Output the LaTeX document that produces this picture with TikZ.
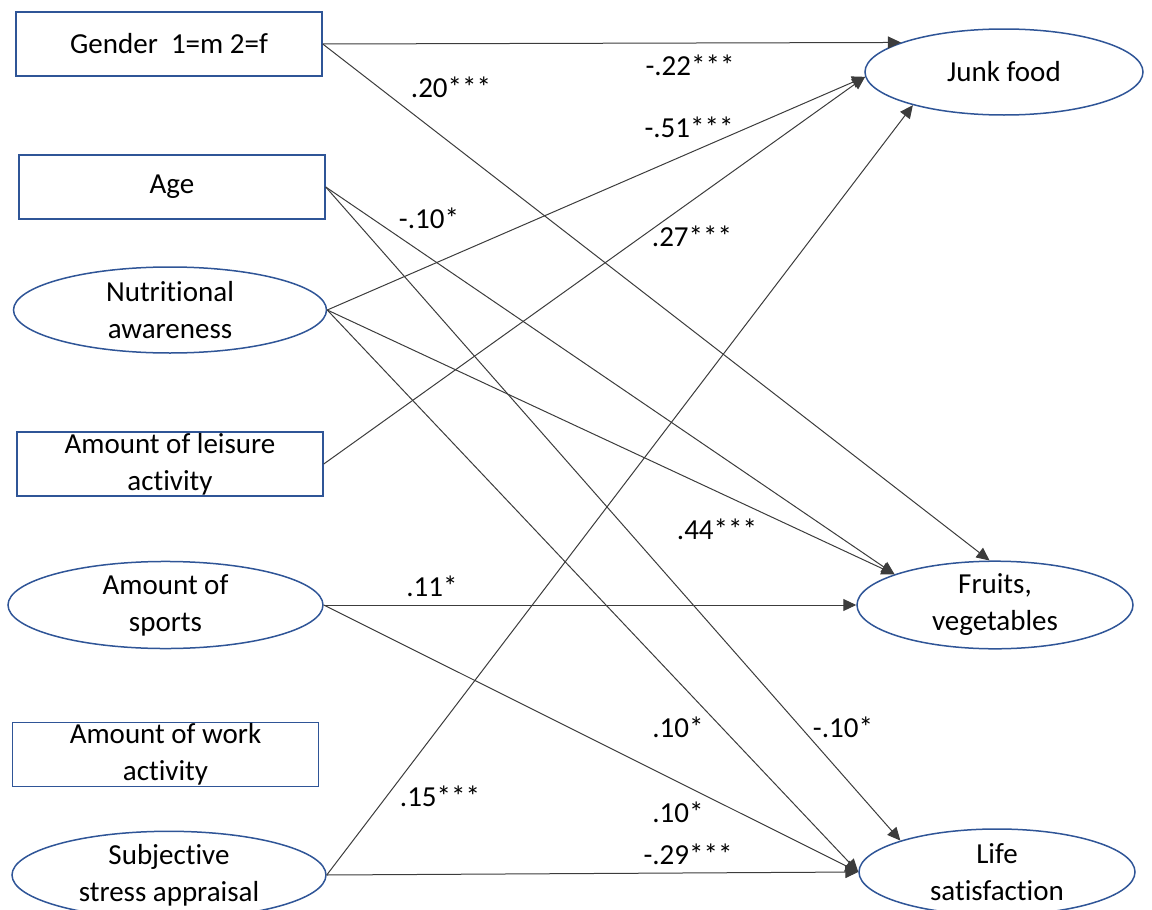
\documentclass[tikz,border=0pt]{standalone}
\usepackage{fontspec}
\setmainfont{Carlito}[Ligatures=NoCommon]
\usetikzlibrary{arrows.meta}
\usetikzlibrary{shapes.geometric}
\definecolor{boxblue}{RGB}{47,85,151}
\definecolor{pathgray}{RGB}{60,60,60}
\tikzset{
	varbox/.style={draw=boxblue,line width=0.75pt,rectangle,inner sep=0pt,minimum width=153pt,minimum height=32pt,align=center,font=\fontsize{14.5}{18.5}\selectfont},
	latent/.style={draw=boxblue,line width=0.75pt,ellipse,inner sep=0pt,minimum height=43pt,align=center,font=\fontsize{14.5}{18.5}\selectfont},
	effect/.style={draw=pathgray,line width=0.5pt,-{Triangle[length=6.5pt,width=6pt]}},
	coef/.style={font=\fontsize{14.5}{17}\selectfont,inner sep=0pt}
}
\begin{document}
\begin{tikzpicture}[x=0.5pt,y=-0.5pt]
	\useasboundingbox (0,0) rectangle (1152,910);

	\node[varbox] (gender) at (169,44) {Gender\ \ 1=m 2=f};
	\node[varbox] (age) at (172,187) {Age};
	\node[latent,minimum width=156.5pt] (nutri) at (170,310) {Nutritional\\awareness};
	\node[varbox] (leisure) at (170,464) {Amount of leisure\\activity};
	\node[latent,minimum width=157.5pt] (sports) at (165.5,605) {Amount of\\sports};
	\node[varbox] (work) at (165.5,754.5) {Amount of work\\activity};
	\node[latent,minimum width=157pt] (stress) at (169,875) {Subjective\\stress appraisal};

	\node[latent,minimum width=139pt] (junk) at (1004,72) {Junk food};
	\node[latent,minimum width=138pt] (fruits) at (995,605) {Fruits,\\vegetables};
	\node[latent,minimum width=138pt] (life) at (997,872) {Life\\satisfaction};

	\draw[effect] (gender.east) -- (junk.164);
	\draw[effect] (gender.east) -- (fruits.97);
	\draw[effect] (age.east) -- (fruits.163);
	\draw[effect] (age.east) -- (life.162);
	\draw[effect] (nutri.east) -- (junk.182);
	\draw[effect] (nutri.east) -- (fruits.163);
	\draw[effect] (nutri.east) -- (life.west);
	\draw[effect] (leisure.east) -- (junk.182);
	\draw[effect] (sports.east) -- (fruits.west);
	\draw[effect] (sports.east) -- (life.west);
	\draw[effect] (stress.east) -- (junk.200);
	\draw[effect] (stress.east) -- (life.west);

	\node[coef] (gj) at (690,65) {-.22***};
	\node[coef] (gf) at (451,87) {.20***};
	\node[coef] (nj) at (689,127) {-.51***};
	\node[coef] (af) at (429,218) {-.10*};
	\node[coef] (lj) at (692,236) {.27***};
	\node[coef] (nf) at (717,529) {.44***};
	\node[coef] (sf) at (432,586) {.11*};
	\node[coef] (nl) at (678,727) {.10*};
	\node[coef] (al) at (843,727) {-.10*};
	\node[coef] (tj) at (440,796) {.15***};
	\node[coef] (sl) at (678,812) {.10*};
	\node[coef] (tl) at (688,854) {-.29***};
\end{tikzpicture}
\end{document}
